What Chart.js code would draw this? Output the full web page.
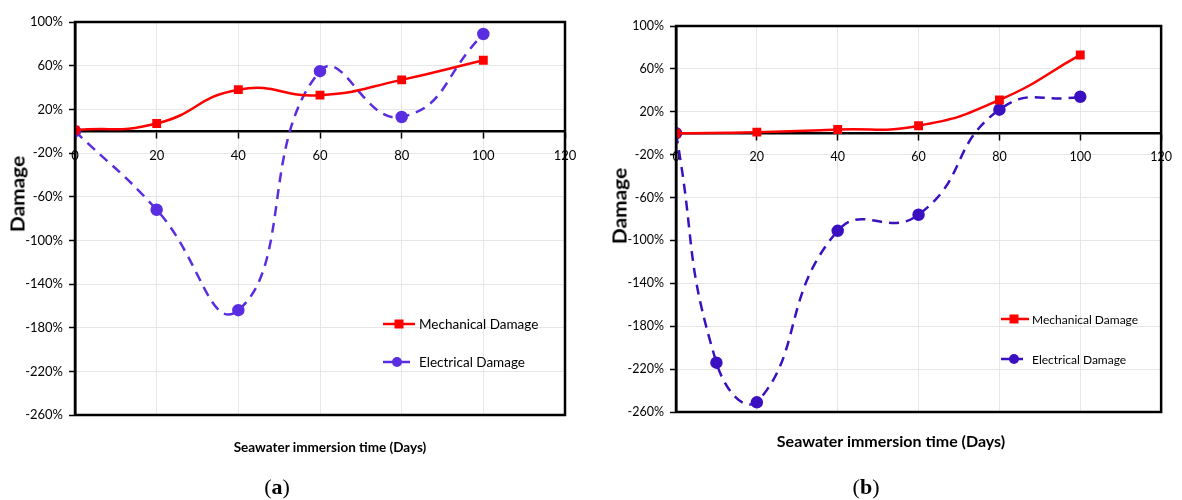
<!DOCTYPE html>
<html><head><meta charset="utf-8">
<script src="https://cdn.jsdelivr.net/npm/chart.js@4/dist/chart.umd.min.js"></script>
<style>
html,body{margin:0;padding:0;background:#fff;}
#wrap{position:relative;width:1182px;height:500px;overflow:hidden;font-family:Lato,"Open Sans",sans-serif;}
.box{position:absolute;top:0;height:500px;}
.ytitle{position:absolute;font-weight:bold;transform:translate(-50%,-50%) rotate(-90deg) scale(1.1,1);white-space:nowrap;color:#000;}
.xtitle{position:absolute;font-weight:bold;transform:translate(-50%,-50%);white-space:nowrap;color:#000;}
.cap{position:absolute;transform:translate(-50%,-50%);font-family:"Liberation Serif","DejaVu Serif",serif;font-size:22px;color:#000;}
</style></head>
<body>
<div id="wrap">
  <div class="box" style="left:0;width:590px;"><canvas id="ca" width="590" height="500"></canvas></div>
  <div class="box" style="left:590px;width:592px;"><canvas id="cb" width="592" height="500"></canvas></div>
  <div class="ytitle" style="left:17px;top:194px;font-size:19px;">Damage</div>
  <div class="ytitle" style="left:619px;top:206px;font-size:19px;">Damage</div>
  <div class="xtitle" style="left:330px;top:447px;font-size:13.5px;">Seawater immersion time (Days)</div>
  <div class="xtitle" style="left:891px;top:440px;font-size:16px;">Seawater immersion time (Days)</div>
  <div class="cap" style="left:277px;top:487px;">(<b>a</b>)</div>
  <div class="cap" style="left:866px;top:487px;">(<b>b</b>)</div>
</div>
<script>
// ---- data ----
const daysA = [0, 20, 40, 60, 80, 100];
const mechanicalA = [1, 7, 38, 33, 47, 65];
const electricalA = [0, -72, -164, 55, 13, 89];

const daysMechB = [0, 20, 40, 60, 80, 100];
const mechanicalB = [0, 1, 3.5, 7, 31, 73];
const daysElecB = [0, 10, 20, 40, 60, 80, 100];
const electricalB = [0, -214, -251, -91, -76, 22, 34];

const seriesNames = ['Mechanical Damage', 'Electrical Damage'];
const xTicks = [0, 20, 40, 60, 80, 100, 120];
const yTicks = [-260, -220, -180, -140, -100, -60, -20, 20, 60, 100];

const pts = (xs, ys) => xs.map((x, i) => ({x: x, y: ys[i]}));

const FONT = 'Lato,"Open Sans",sans-serif';

const frame = {
  id: 'frame',
  afterDatasetsDraw(chart) {
    const a = chart.chartArea, c = chart.ctx;
    c.save(); c.strokeStyle = '#000'; c.lineWidth = 2.5;
    c.strokeRect(a.left, a.top, a.right - a.left, a.bottom - a.top);
    c.restore();
  }
};

const legendIn = {
  id: 'legendIn',
  afterDraw(chart, args, o) {
    const c = chart.ctx;
    chart.data.datasets.forEach((ds, i) => {
      const L = o.items[i];
      c.save();
      c.strokeStyle = ds.borderColor; c.lineWidth = 2.5;
      c.setLineDash(ds.borderDash || []);
      c.beginPath(); c.moveTo(L.x0, L.y); c.lineTo(L.x1, L.y); c.stroke();
      c.setLineDash([]);
      c.fillStyle = ds.pointBackgroundColor;
      if (ds.pointStyle === 'rect') {
        const r = ds.pointRadius;
        c.fillRect(L.m - r, L.y - r, 2 * r, 2 * r);
      } else {
        c.beginPath(); c.arc(L.m, L.y, ds.pointRadius, 0, Math.PI * 2); c.fill();
      }
      c.fillStyle = '#000'; c.font = o.font; c.textBaseline = 'middle';
      c.fillText(ds.label, L.tx, L.y + 1);
      c.restore();
    });
  }
};

function makeChart(id, mech, elec, elecColor, pad, legendItems, fs, lfs, xpad) {
  return new Chart(document.getElementById(id), {
    type: 'line',
    data: {
      datasets: [
        { label: seriesNames[0], data: mech, borderColor: '#ff0000', backgroundColor: '#ff0000',
          pointBackgroundColor: '#ff0000', pointBorderColor: '#ff0000', pointStyle: 'rect',
          pointRadius: 4.5, borderWidth: 2.5, tension: 0.5, fill: false },
        { label: seriesNames[1], data: elec, borderColor: elecColor, backgroundColor: elecColor,
          pointBackgroundColor: elecColor, pointBorderColor: elecColor, pointStyle: 'circle',
          pointRadius: 5, borderWidth: 2.5, borderDash: [10, 7], tension: 0.5, fill: false }
      ]
    },
    options: {
      responsive: false, animation: false, devicePixelRatio: 1,
      layout: { padding: pad },
      plugins: { legend: { display: false }, tooltip: { enabled: false },
        legendIn: { items: legendItems, font: lfs + 'px ' + FONT } },
      scales: {
        x: {
          type: 'linear', position: { y: 0 }, min: 0, max: 120,
          afterBuildTicks: s => { s.ticks = xTicks.map(v => ({value: v})); },
          grid: { color: '#e6e6e6', lineWidth: 1, tickLength: 6, tickColor: '#000', tickWidth: 1.5 },
          border: { color: '#000', width: 2.5 },
          ticks: { color: '#000', font: { family: FONT, size: fs }, padding: xpad, maxRotation: 0, autoSkip: false }
        },
        y: {
          type: 'linear', min: -260, max: 100,
          afterBuildTicks: s => { s.ticks = yTicks.map(v => ({value: v})); },
          afterFit: s => { s.width = 60; },
          grid: { color: '#e6e6e6', lineWidth: 1, tickLength: 6, tickColor: '#000', tickWidth: 1.5 },
          border: { color: '#000', width: 2.5 },
          ticks: { color: '#000', font: { family: FONT, size: fs }, padding: 6, callback: v => v + '%' }
        }
      }
    },
    plugins: [frame, legendIn]
  });
}

makeChart('ca', pts(daysA, mechanicalA), pts(daysA, electricalA), '#5a2ee0',
  { left: 15, right: 25, top: 22, bottom: 85 },
  [ { x0: 383, x1: 415, m: 399, y: 324, tx: 419 }, { x0: 383, x1: 410, m: 397, y: 362, tx: 419 } ], 13, 13.5, 11);

makeChart('cb', pts(daysMechB, mechanicalB), pts(daysElecB, electricalB), '#3a10c0',
  { left: 26, right: 16, top: 26, bottom: 88 },
  [ { x0: 411, x1: 439, m: 424, y: 319, tx: 442 }, { x0: 411, x1: 433, m: 424, y: 359, tx: 442 } ], 12.5, 12, 10);
</script>
</body></html>
